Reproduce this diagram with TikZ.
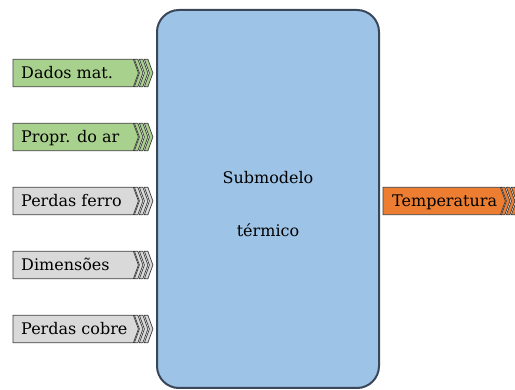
\documentclass[tikz,border=0pt]{standalone}
\usepackage{fontspec}
\setmainfont{DejaVu Serif}
\definecolor{mainfill}{HTML}{9DC3E6}
\definecolor{mainline}{HTML}{3A4659}
\definecolor{ingreen}{HTML}{A9D18E}
\definecolor{ingray}{HTML}{D9D9D9}
\definecolor{outorange}{HTML}{ED7D31}
\definecolor{edgedark}{HTML}{3C3C3C}
\newcommand{\sigshape}[2]{%
  \fill[#2] (#1.north west) -- (#1.north east) -- ([xshift=5pt]#1.east) -- (#1.south east) -- (#1.south west) -- cycle;
  \draw[arrowedge] (#1.north west) -- (#1.north east) -- ([xshift=5pt]#1.east) -- (#1.south east) -- (#1.south west) -- cycle;
  \foreach \k in {1,6,11}{%
    \draw[arrowedge,fill=#2] ([xshift=\k pt]#1.north east) -- ([xshift=\k pt+3.5pt]#1.north east)
      -- ([xshift=\k pt+8.5pt]#1.east) -- ([xshift=\k pt+3.5pt]#1.south east)
      -- ([xshift=\k pt]#1.south east) -- ([xshift=\k pt+5pt]#1.east) -- cycle;}%
}
\begin{document}
\begin{tikzpicture}[x=1pt,y=-1pt,font=\fontsize{16}{20}\selectfont,
  inbox/.style={rectangle,anchor=west,minimum height=27pt,minimum width=120pt,inner sep=0pt},
  outbox/.style={rectangle,anchor=west,minimum height=27pt,minimum width=117pt,inner sep=0pt},
  lbl/.style={anchor=base west,inner sep=0pt},
  arrowedge/.style={draw=edgedark,line width=0.7pt,line join=miter}]
\useasboundingbox (0,0) rectangle (515,390);

% main block
\node (main) [draw=mainline,fill=mainfill,line width=2pt,rounded corners=22pt,
  minimum width=222pt,minimum height=378pt,inner sep=0pt] at (268,199) {};
\node (t1) [anchor=base] at (268,184) {Submodelo};
\node (t2) [anchor=base] at (268,237) {térmico};

\node (d1) [inbox] at (13,73) {};
\node (d2) [inbox] at (13,137) {};
\node (d3) [inbox] at (13,201) {};
\node (d4) [inbox] at (13,265) {};
\node (d5) [inbox] at (13,329) {};
\node (out) [outbox] at (383,201) {};

\sigshape{d1}{ingreen}
\sigshape{d2}{ingreen}
\sigshape{d3}{ingray}
\sigshape{d4}{ingray}
\sigshape{d5}{ingray}
\sigshape{out}{outorange}

\node (d1t) [lbl] at ([xshift=8pt,yshift=-6pt]d1.west) {Dados mat.};
\node (d2t) [lbl] at ([xshift=8pt,yshift=-6pt]d2.west) {Propr. do ar};
\node (d3t) [lbl] at ([xshift=8pt,yshift=-6pt]d3.west) {Perdas ferro};
\node (d4t) [lbl] at ([xshift=8pt,yshift=-6pt]d4.west) {Dimensões};
\node (d5t) [lbl] at ([xshift=8pt,yshift=-6pt]d5.west) {Perdas cobre};
\node (outt) [lbl] at ([xshift=9pt,yshift=-6pt]out.west) {Temperatura};
\end{tikzpicture}
\end{document}
